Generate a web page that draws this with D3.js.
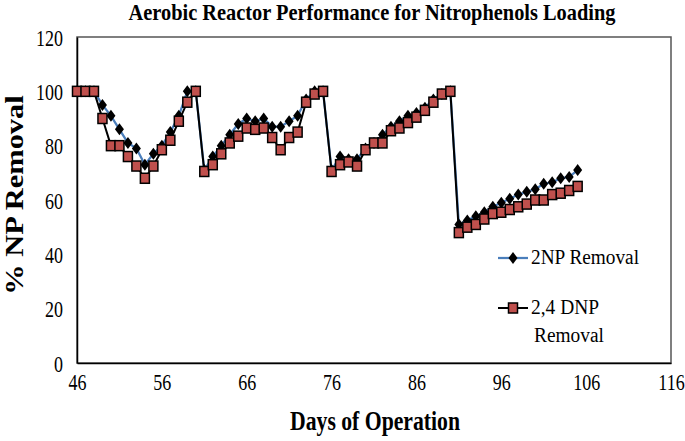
<!DOCTYPE html>
<html>
<head>
<meta charset="utf-8">
<script src="https://cdn.jsdelivr.net/npm/d3@7"></script>
<style>
	body { margin: 0; background: #fff; }
	text { font-family: "Liberation Serif", "Times New Roman", serif; fill: #000; }
</style>
</head>
<body>
<div id="chart"></div>
<script>
// 数据
const days = [46, 47, 48, 49, 50, 51, 52, 53, 54, 55, 56, 57, 58, 59, 60,
	61, 62, 63, 64, 65, 66, 67, 68, 69, 70, 71, 72, 73, 74, 75,
	76, 77, 78, 79, 80, 81, 82, 83, 84, 85, 86, 87, 88, 89, 90,
	91, 92, 93, 94, 95, 96, 97, 98, 99, 100, 101, 102, 103, 104, 105];

const np2 = [100, 100, 100, 95, 91, 86, 81, 79, 73, 77, 80, 85, 91, 100, 100,
	71, 76, 80, 84, 88, 90, 89, 90, 87, 87, 89, 91, 97, 100, 100,
	71, 76, 75, 75, 79, 81, 84, 87, 89, 91, 92, 94, 97, 99, 100,
	51, 52.5, 54, 55.5, 57.5, 59, 60.5, 62, 63, 64, 66, 66.5, 68, 68.5, 71];

const dnp24 = [100, 100, 100, 90, 80, 80, 76, 72.5, 68, 72.5, 78.5, 82, 89, 96, 100,
	70.5, 73, 77, 81, 83.5, 86.5, 86, 86.5, 83, 78.5, 83, 85, 96, 99, 100,
	70.5, 73, 74, 72.5, 78.5, 81, 81, 85.5, 86.5, 88.5, 90.5, 93, 96, 99, 100,
	48, 50, 51, 53, 55, 55.5, 56.5, 57.5, 58.5, 60, 60, 62, 62.5, 63.5, 65];

const xTicks = [46, 56, 66, 76, 86, 96, 106, 116];
const yTicks = [0, 20, 40, 60, 80, 100, 120];

const width = 685;
const height = 441;
const margin = ({ top: 37, right: 14, bottom: 78, left: 77 });

const x = d3.scaleLinear()
	.domain([46, 116])
	.range([margin.left, width - margin.right]);

const y = d3.scaleLinear()
	.domain([0, 120])
	.range([height - margin.bottom, margin.top]);

const svg = d3.select('#chart')
	.append('svg')
	.attr('width', width)
	.attr('height', height)
	.attr('viewBox', [0, 0, width, height]);

// 绘图区边框
svg.append('rect')
	.attr('x', x(46))
	.attr('y', y(120))
	.attr('width', x(116) - x(46))
	.attr('height', y(0) - y(120))
	.attr('fill', 'none')
	.attr('stroke', '#555')
	.attr('stroke-width', 1.5);

// x 轴
svg.append('g')
	.attr('transform', `translate(0,${y(0)})`)
	.call(d3.axisBottom(x).tickValues(xTicks).tickSize(0).tickPadding(0).tickFormat(d3.format('d')))
	.call(g => g.select('.domain').attr('stroke', '#000').attr('stroke-width', 1.5))
	.call(g => g.selectAll('text')
		.attr('dy', null).attr('y', 0)
		.attr('font-size', 18)
		.attr('transform', 'translate(0,27) scale(1,1.3)'));

// y 轴
svg.append('g')
	.attr('transform', `translate(${x(46)},0)`)
	.call(d3.axisLeft(y).tickValues(yTicks).tickSize(0).tickPadding(0))
	.call(g => g.select('.domain').attr('stroke', '#000').attr('stroke-width', 1.5))
	.call(g => g.selectAll('text')
		.attr('dy', null).attr('x', 0)
		.attr('font-size', 18)
		.attr('transform', 'translate(-14,8) scale(1,1.3)'));

// 2NP 系列
const line = d3.line()
	.x((d, i) => x(days[i]))
	.y(d => y(d));

svg.append('path')
	.datum(np2)
	.attr('fill', 'none')
	.attr('stroke', '#4A7EBB')
	.attr('stroke-width', 2.25)
	.attr('d', line);

const diamond = 'M0,-6L4.5,0L0,6L-4.5,0Z';

svg.append('g')
	.selectAll('path')
	.data(np2)
	.join('path')
	.attr('d', diamond)
	.attr('transform', (d, i) => `translate(${x(days[i])},${y(d)})`)
	.attr('fill', '#000');

// 2,4 DNP 系列
svg.append('path')
	.datum(dnp24)
	.attr('fill', 'none')
	.attr('stroke', '#000')
	.attr('stroke-width', 2)
	.attr('d', line);

svg.append('g')
	.selectAll('rect')
	.data(dnp24)
	.join('rect')
	.attr('x', (d, i) => x(days[i]) - 4.5)
	.attr('y', d => y(d) - 5)
	.attr('width', 9)
	.attr('height', 10)
	.attr('fill', '#C0504D')
	.attr('stroke', '#000')
	.attr('stroke-width', 1.5);

// 标题
svg.append('text')
	.attr('transform', 'translate(372,20) scale(1,1.25)')
	.attr('text-anchor', 'middle')
	.attr('font-size', 19)
	.attr('font-weight', 'bold')
	.attr('textLength', 487)
	.attr('lengthAdjust', 'spacingAndGlyphs')
	.text('Aerobic Reactor Performance for Nitrophenols Loading');

svg.append('text')
	.attr('transform', 'translate(375,430) scale(1,1.25)')
	.attr('text-anchor', 'middle')
	.attr('font-size', 22)
	.attr('font-weight', 'bold')
	.attr('textLength', 170)
	.attr('lengthAdjust', 'spacingAndGlyphs')
	.text('Days of Operation');

svg.append('text')
	.attr('transform', 'translate(23,195) rotate(-90) scale(1.05,1.1)')
	.attr('text-anchor', 'middle')
	.attr('font-size', 23)
	.attr('font-weight', 'bold')
	.attr('textLength', 190)
	.attr('lengthAdjust', 'spacingAndGlyphs')
	.text('% NP Removal');

// 图例
const legend = svg.append('g');

legend.append('line')
	.attr('x1', 498).attr('x2', 528).attr('y1', 258).attr('y2', 258)
	.attr('stroke', '#4A7EBB').attr('stroke-width', 2.25);
legend.append('path')
	.attr('d', diamond)
	.attr('transform', 'translate(513,258)')
	.attr('fill', '#000');
legend.append('text')
	.attr('transform', 'translate(531,264) scale(1,1.2)')
	.attr('font-size', 18)
	.attr('textLength', 108)
	.attr('lengthAdjust', 'spacingAndGlyphs')
	.text('2NP Removal');

legend.append('line')
	.attr('x1', 498).attr('x2', 528).attr('y1', 308).attr('y2', 308)
	.attr('stroke', '#000').attr('stroke-width', 2);
legend.append('rect')
	.attr('x', 508.5).attr('y', 303).attr('width', 9).attr('height', 10)
	.attr('fill', '#C0504D').attr('stroke', '#000').attr('stroke-width', 1.5);
legend.append('text')
	.attr('transform', 'translate(531,314) scale(1,1.2)')
	.attr('font-size', 18)
	.attr('textLength', 68)
	.attr('lengthAdjust', 'spacingAndGlyphs')
	.text('2,4 DNP');
legend.append('text')
	.attr('transform', 'translate(534,342) scale(1,1.2)')
	.attr('font-size', 18)
	.attr('textLength', 70)
	.attr('lengthAdjust', 'spacingAndGlyphs')
	.text('Removal');
</script>
</body>
</html>
